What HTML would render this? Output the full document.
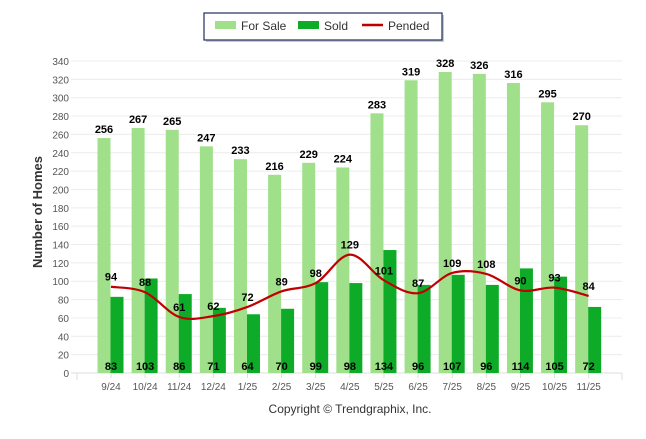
<!DOCTYPE html>
<html><head><meta charset="utf-8"><style>
body{margin:0;background:#fff;font-family:"Liberation Sans",sans-serif}
</style></head><body>
<svg id="c" width="646" height="434" xmlns="http://www.w3.org/2000/svg">
<g>
<rect x="206" y="15" width="238" height="27" fill="#8a94a8" opacity="0.5"/>
<rect x="204" y="13" width="238" height="27" fill="#fff" stroke="#1f2f5a" stroke-width="1.2"/>
<rect x="215" y="21" width="21" height="8" fill="#a0e08a"/>
<text x="241" y="30" font-size="12" fill="#333">For Sale</text>
<rect x="298" y="21" width="21" height="8" fill="#0eab28"/>
<text x="324" y="30" font-size="12" fill="#333">Sold</text>
<line x1="362" y1="25" x2="383" y2="25" stroke="#c00000" stroke-width="2.5"/>
<text x="388" y="30" font-size="12" fill="#333">Pended</text>
</g>
<text transform="translate(42,212) rotate(-90)" text-anchor="middle" font-size="13" font-weight="bold" fill="#333">Number of Homes</text>
<text x="350" y="413" text-anchor="middle" font-size="12" fill="#333">Copyright © Trendgraphix, Inc.</text>
<g id="grid"></g><g id="bars"></g><g id="line"></g><g id="labels"></g>
</svg>
<script>
const categories=["9/24","10/24","11/24","12/24","1/25","2/25","3/25","4/25","5/25","6/25","7/25","8/25","9/25","10/25","11/25"];
const forSale=[256,267,265,247,233,216,229,224,283,319,328,326,316,295,270];
const sold=[83,103,86,71,64,70,99,98,134,96,107,96,114,105,72];
const pended=[94,88,61,62,72,89,98,129,101,87,109,108,90,93,84];
const yTicks=[0,20,40,60,80,100,120,140,160,180,200,220,240,260,280,300,320,340];
const NS="http://www.w3.org/2000/svg";
const y=v=>373-v*312/340;
const x=i=>111+i*34.12;
function mk(tag,attrs,parent,txt){const e=document.createElementNS(NS,tag);for(const k in attrs)e.setAttribute(k,attrs[k]);if(txt!==undefined)e.textContent=txt;document.getElementById(parent).appendChild(e);return e;}
yTicks.forEach(t=>{
 const l=mk('line',{x1:71,x2:622,y1:y(t),y2:y(t),stroke:t?'#ececec':'#ddd','stroke-width':1},'grid');
 
 
 const tx=mk('text',{x:69,y:y(t)+4,'text-anchor':'end','font-size':10,fill:'#555'},'grid',t);
 
 
});
mk('line',{x1:622,x2:622,y1:373,y2:380,stroke:'#ddd'},'grid');
mk('line',{x1:77,x2:77,y1:373,y2:380,stroke:'#ddd'},'grid');
categories.forEach((c,i)=>{
 const cx=x(i);
 const tk=mk('line',{x1:cx,x2:cx,y1:373,y2:378,stroke:'#ddd'},'grid');
 
 
 const tl=mk('text',{x:cx,y:390,'text-anchor':'middle','font-size':10,fill:'#555'},'grid',c);
 
 
 const b1=mk('rect',{x:cx-13.5,y:y(forSale[i]),width:13,height:373-y(forSale[i]),fill:'#a0e08a'},'bars');
 
 
 const b2=mk('rect',{x:cx-0.5,y:y(sold[i]),width:13,height:373-y(sold[i]),fill:'#0eab28'},'bars');
 
 
 const l1=mk('text',{x:cx-7,y:y(forSale[i])-5,'text-anchor':'middle','font-size':11,'font-weight':'bold',fill:'#000'},'labels',forSale[i]);
 
 
 const l2=mk('text',{x:cx,y:370,'text-anchor':'middle','font-size':11,'font-weight':'bold',fill:'#000'},'labels',sold[i]);
 
 
 const l3=mk('text',{x:cx,y:y(pended[i])-6,'text-anchor':'middle','font-size':11,'font-weight':'bold',fill:'#000'},'labels',pended[i]);
 
 
});
// smooth line (Catmull-Rom)
const pts=pended.map((v,i)=>[x(i),y(v)]);
let d=`M${pts[0][0]},${pts[0][1]}`;
for(let i=0;i<pts.length-1;i++){
 const p0=pts[Math.max(0,i-1)],p1=pts[i],p2=pts[i+1],p3=pts[Math.min(pts.length-1,i+2)];
 const c1=[p1[0]+(p2[0]-p0[0])/6,p1[1]+(p2[1]-p0[1])/6],c2=[p2[0]-(p3[0]-p1[0])/6,p2[1]-(p3[1]-p1[1])/6];
 d+=` C${c1[0]},${c1[1]} ${c2[0]},${c2[1]} ${p2[0]},${p2[1]}`;
}
const pl=mk('path',{d:d,fill:'none',stroke:'#c00000','stroke-width':2.2},'line');


</script>
</body></html>
